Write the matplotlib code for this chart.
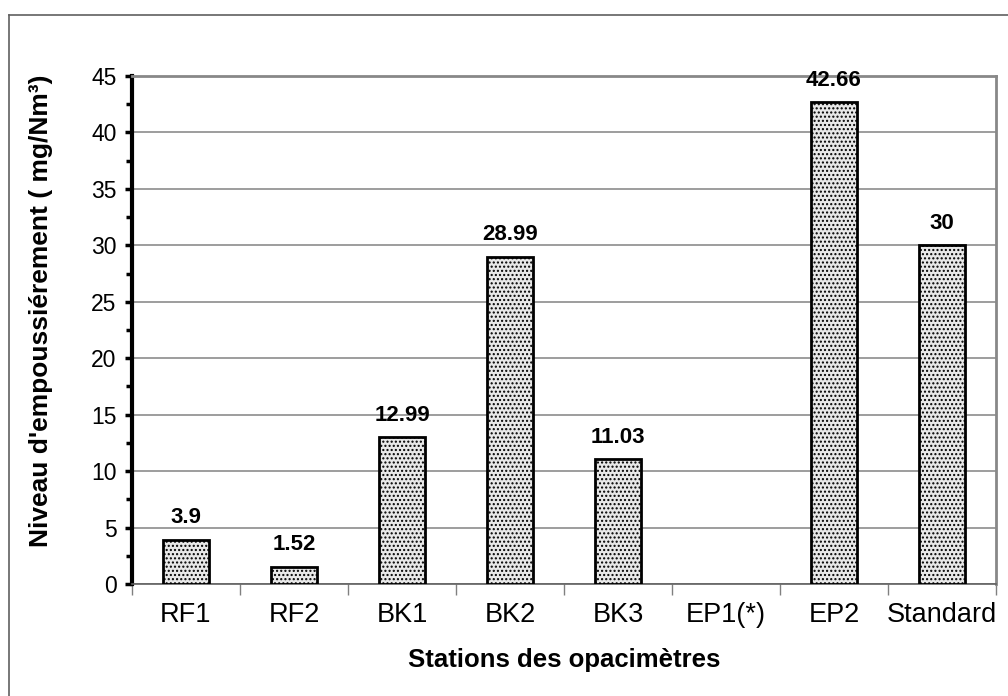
import numpy as np
import matplotlib
matplotlib.use("Agg")
import matplotlib.pyplot as plt
from matplotlib.lines import Line2D

plt.rcParams['font.family'] = ['Liberation Sans', 'DejaVu Sans']
plt.rcParams['hatch.color'] = '#555555'
plt.rcParams['hatch.linewidth'] = 1.0

stations = ["RF1", "RF2", "BK1", "BK2", "BK3", "EP1(*)", "EP2", "Standard"]
niveaux = [3.9, 1.52, 12.99, 28.99, 11.03, np.nan, 42.66, 30]
etiquettes = ["3.9", "1.52", "12.99", "28.99", "11.03", "", "42.66", "30"]

fig = plt.figure(figsize=(10.08, 6.96), dpi=100)
ax = fig.add_axes([132/1008, 1-584/696, 864/1008, 508/696])

x = np.arange(len(stations))
vals = np.nan_to_num(niveaux, nan=0.0)
barres = ax.bar(x, vals, width=0.43, facecolor='#e8e8e8', edgecolor='black',
                linewidth=2, hatch='....', zorder=3)
for b, v, t in zip(barres, niveaux, etiquettes):
    if np.isnan(v):
        b.set_visible(False)
        continue
    ax.annotate(t, (b.get_x() + b.get_width()/2, v), xytext=(0, 16),
                textcoords='offset points', ha='center', va='center',
                fontsize=16, fontweight='bold')

ax.set_xlim(-0.5, len(stations) - 0.5)
ax.set_ylim(0, 45)
ax.set_yticks(np.arange(0, 46, 5))
ax.set_yticks(np.arange(2.5, 45, 5), minor=True)
ax.yaxis.grid(True, color='#8c8c8c', linewidth=1.2, zorder=0)
ax.set_axisbelow(True)

ax.set_xticks(x)
ax.set_xticklabels(stations, fontsize=19.5)
ax.set_xticks(np.arange(-0.5, len(stations)), minor=True)
ax.tick_params(axis='x', which='major', length=0, pad=13)
ax.tick_params(axis='x', which='minor', length=8, width=1, color='#808080', direction='out')
ax.tick_params(axis='y', which='major', labelsize=16.5, length=5, width=2.5, color='black', pad=6)
ax.tick_params(axis='y', which='minor', length=4, width=2.5, color='black')

ax.spines['left'].set_linewidth(3)
ax.spines['left'].set_color('black')
ax.spines['right'].set_linewidth(2)
ax.spines['right'].set_color('#888888')
ax.spines['top'].set_linewidth(2)
ax.spines['top'].set_color('#888888')
ax.spines['bottom'].set_linewidth(1.2)
ax.spines['bottom'].set_color('#606060')

ax.set_xlabel("Stations des opacimètres", fontsize=18.5, fontweight='bold', labelpad=14)
ax.set_ylabel("Niveau d'empoussiérement ( mg/Nm³)", fontsize=19, fontweight='bold')
ax.yaxis.set_label_coords(-0.0914, 0.537)

# cadre extérieur
fig.add_artist(Line2D([9/1008, 9/1008], [0, 1-15/696], transform=fig.transFigure,
                      color='#606060', linewidth=1.2))
fig.add_artist(Line2D([9/1008, 1], [1-15/696, 1-15/696], transform=fig.transFigure,
                      color='#606060', linewidth=1.2))

fig.savefig("out.png", dpi=100)
